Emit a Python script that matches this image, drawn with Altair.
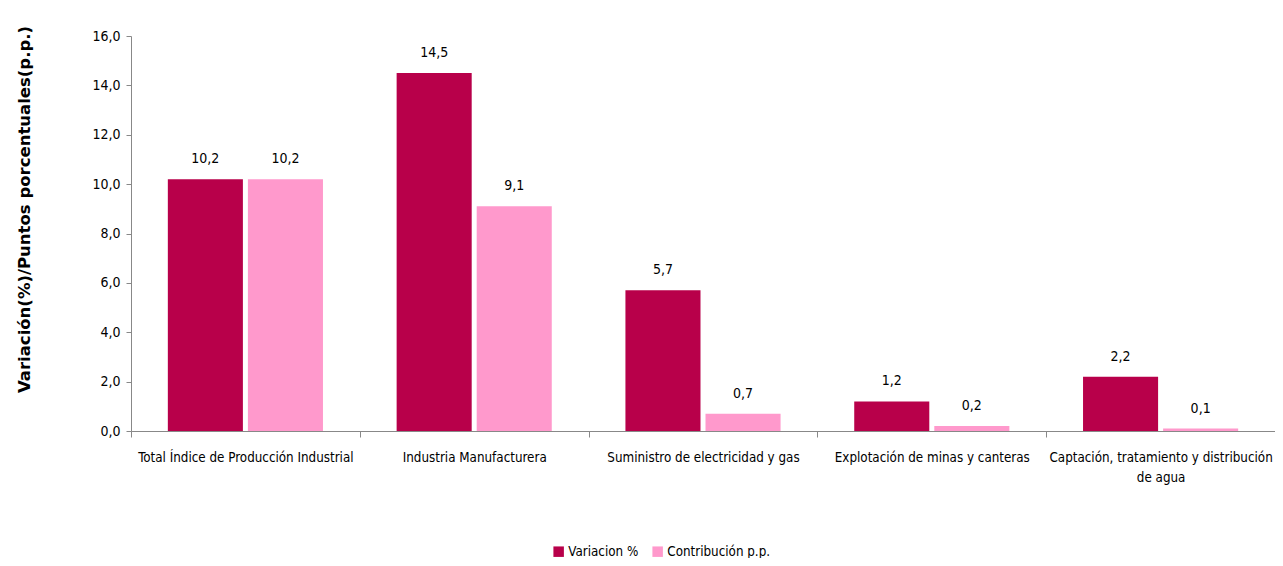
import altair as alt
import pandas as pd

categories = [
    "Total Índice de Producción Industrial",
    "Industria Manufacturera",
    "Suministro de electricidad y gas",
    "Explotación de minas y canteras",
    "Captación, tratamiento y distribución de agua",
]
variacion = [10.2, 14.5, 5.7, 1.2, 2.2]
contribucion = [10.2, 9.1, 0.7, 0.2, 0.1]
series = ["Variacion %", "Contribución p.p."]
colors = ["#B8004A", "#FF99CC"]
y_ticks = [0, 2, 4, 6, 8, 10, 12, 14, 16]

rows = []
for c, v, p in zip(categories, variacion, contribucion):
    rows.append({"cat": c, "serie": series[0], "valor": v})
    rows.append({"cat": c, "serie": series[1], "valor": p})
df = pd.DataFrame(rows)
df["label"] = df["valor"].map(lambda x: f"{x:.1f}".replace(".", ","))

FONT = "Liberation Sans Narrow, DejaVu Sans Condensed, Roboto Condensed, sans-serif"

wrap_expr = (
    "datum.label == 'Captación, tratamiento y distribución de agua' ? "
    "['Captación, tratamiento y distribución', 'de agua'] : datum.label"
)

base = alt.Chart(df).encode(
    x=alt.X(
        "cat:N",
        sort=categories,
        scale=alt.Scale(paddingInner=0, paddingOuter=0),
        axis=alt.Axis(
            title=None,
            labelAngle=0,
            labelFont=FONT,
            labelFontSize=13.3,
            labelColor="#000000",
            labelLimit=500,
            labelPadding=13,
            labelExpr=wrap_expr,
            labelLineHeight=20,
            tickBand="extent",
            tickSize=6,
            tickColor="#888888",
            domainColor="#888888",
        ),
    ),
    xOffset=alt.XOffset(
        "serie:N",
        sort=series,
        scale=alt.Scale(paddingInner=0.0625, paddingOuter=0.46),
    ),
    y=alt.Y(
        "valor:Q",
        scale=alt.Scale(domain=[0, 16], nice=False),
        axis=alt.Axis(
            title="Variación(%)/Puntos  porcentuales(p.p.)",
            titleFont="DejaVu Sans",
            titleFontWeight="bold",
            titleFontSize=16.5,
            titleColor="#000000",
            titleAngle=-90,
            titleAlign="center",
            titleBaseline="middle",
            titleX=-107,
            titleY=173,
            values=y_ticks,
            labelExpr="replace(format(datum.value, '.1f'), '.', ',')",
            labelFont=FONT,
            labelFontSize=14,
            labelColor="#000000",
            labelPadding=6,
            tickSize=5,
            tickColor="#888888",
            domainColor="#888888",
            grid=False,
        ),
    ),
)

bars = base.mark_bar().encode(
    color=alt.Color(
        "serie:N",
        sort=series,
        scale=alt.Scale(domain=series, range=colors),
        legend=alt.Legend(
            title=None,
            orient="none",
            legendX=421,
            legendY=509,
            direction="horizontal",
            symbolType="square",
            symbolSize=110,
            symbolStrokeWidth=0,
            labelFont=FONT,
            labelFontSize=13.3,
            labelColor="#000000",
            labelOffset=3,
            columnPadding=12,
        ),
    )
)

labels = base.mark_text(
    baseline="bottom", dy=-13, font=FONT, fontSize=14, color="#000000"
).encode(text="label:N")

chart = (
    alt.layer(bars, labels)
    .properties(
        width=1144,
        height=395,
        padding={"left": 123, "top": 28, "right": 0, "bottom": 127},
        autosize=alt.AutoSizeParams(type="none"),
    )
    .configure_view(stroke=None)
)

chart.save("out.html", embed_options={"renderer": "svg", "actions": False})
